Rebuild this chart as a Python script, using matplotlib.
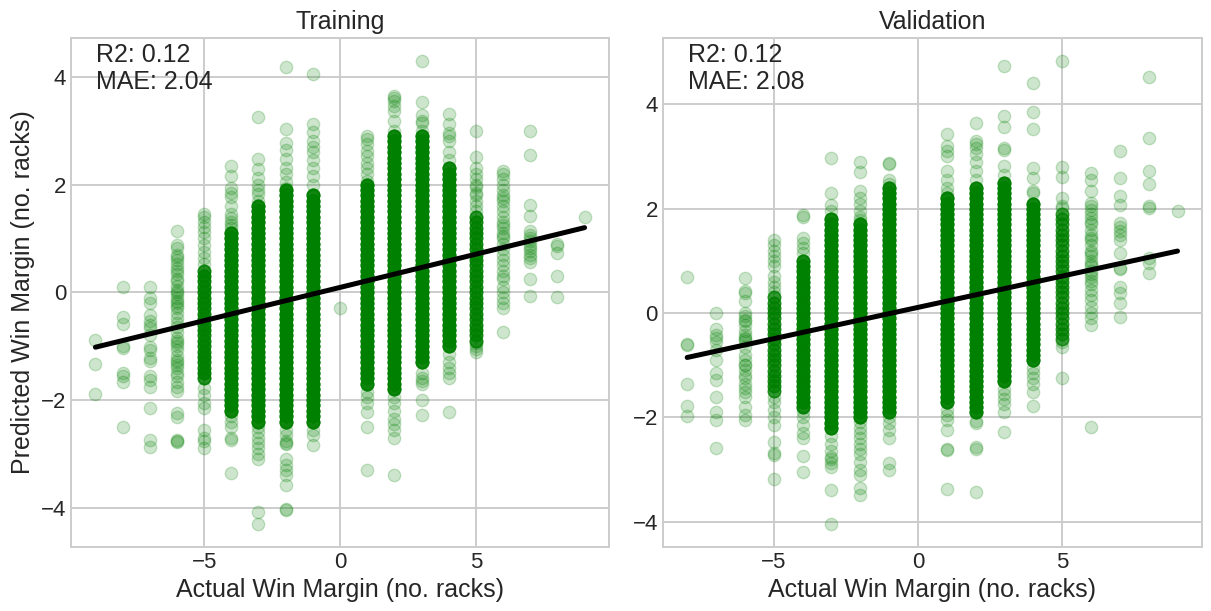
import numpy as np
import matplotlib
matplotlib.use("Agg")
import matplotlib.pyplot as plt

# ---------------------------------------------------------------
# data (predicted win margin per actual margin)
# ---------------------------------------------------------------

train_r2, train_mae = 0.12, 2.04
val_r2, val_mae = 0.12, 2.08

# fitted lines
train_fit_x = [-9, 9]
train_fit_y = [-1.02, 1.20]
val_fit_x = [-8, 9]
val_fit_y = [-0.85, 1.19]

# single (sparse) points, one list per actual margin
train_x = [-9, -8, -7, -6, -5, -4, -3, -2, -1, 0, 1, 2, 3, 4, 5, 6, 7, 8, 9]
train_loose = [
    [-0.89, -1.34, -1.89],
    [0.10, -0.46, -0.59, -1.00, -1.04, -1.50, -1.55, -1.67, -2.51],
    [0.10, -0.11, -0.20, -0.42, -0.54, -0.60, -0.66, -0.79, -1.01, -1.07, -1.22, -1.28,
     -1.56, -1.63, -1.75, -2.14, -2.74, -2.88],
    [1.14, 0.88, 0.83, 0.70, 0.65, 0.60, 0.53, 0.45, 0.40, 0.33, 0.25, 0.20, 0.11, 0.05,
     0.00, -0.04, -0.10, -0.17, -0.20, -0.25, -0.29, -0.38, -0.48, -0.57, -0.65, -0.73,
     -0.85, -0.91, -0.95, -1.00, -1.07, -1.19, -1.25, -1.30, -1.35, -1.41, -1.50, -1.56,
     -1.66, -1.75, -1.84, -2.25, -2.31, -2.74, -2.77, -2.78],
    [1.45, 1.40, 1.31, 1.22, 1.12, 1.00, 0.88, 0.75, 0.63, 0.53,
     -1.78, -1.90, -2.06, -2.15, -2.56, -2.71, -2.77, -2.90],
    [2.35, 2.16, 1.94, 1.85, 1.76, 1.60, 1.45, 1.38, 1.30, 1.25, 1.20,
     -2.30, -2.40, -2.50, -2.71, -2.74, -3.36],
    [3.26, 2.47, 2.28, 2.13, 2.00, 1.90, 1.82, 1.70,
     -2.50, -2.59, -2.71, -2.80, -2.90, -3.00, -3.09, -4.08, -4.30],
    [4.19, 3.03, 2.78, 2.65, 2.47, 2.31, 2.20, 2.05, 1.94,
     -2.55, -2.65, -2.77, -2.80, -2.82, -3.09, -3.20, -3.30, -3.40, -3.58, -4.02, -4.05],
    [4.05, 3.13, 2.97, 2.80, 2.70, 2.60, 2.45, 2.30, 2.15, 2.00,
     -2.55, -2.65, -2.84],
    [-0.29],
    [2.90, 2.85, 2.75, 2.62, 2.53, 2.40, 2.30, 2.20, 2.07,
     -1.85, -1.95, -2.05, -2.22, -2.50, -3.30],
    [3.65, 3.60, 3.55, 3.45, 3.37, 3.18, 3.00,
     -1.95, -2.05, -2.20, -2.35, -2.45, -2.55, -2.71, -3.40],
    [4.30, 3.54, 3.30, 3.18, 3.15, 3.00,
     -1.50, -1.60, -1.65, -1.70, -2.00, -2.28],
    [3.31, 3.12, 2.95, 2.90, 2.80, 2.60, 2.45,
     -1.15, -1.30, -1.40, -1.50, -1.60, -2.22],
    [3.00, 2.51, 2.30, 2.20, 2.10, 2.00, 1.95, 1.85, 1.80, 1.70, 1.60, 1.50,
     -0.95, -1.00, -1.05, -1.10],
    [2.25, 2.20, 2.10, 2.00, 1.90, 1.80, 1.75, 1.70, 1.60, 1.50, 1.40, 1.30, 1.25, 1.20,
     1.10, 1.05, 1.00, 0.90, 0.80, 0.70, 0.60, 0.50, 0.40, 0.30, 0.25, 0.10, 0.00, -0.10,
     -0.20, -0.30, -0.73],
    [3.00, 2.55, 1.62, 1.42, 1.13, 1.07, 1.00, 0.95, 0.88, 0.82, 0.76, 0.70, 0.63, 0.57,
     0.25, -0.06],
    [0.89, 0.85, 0.73, 0.31, -0.09],
    [1.40],
]

# dense bands (values read every 0.1) and how many games sit on each level
train_core_x = [-5, -4, -3, -2, -1, 1, 2, 3, 4, 5]
train_core_reps = [8, 12, 12, 12, 12, 12, 12, 12, 12, 7]
train_core = [
    [0.4, 0.3, 0.2, 0.1, 0.0, -0.1, -0.2, -0.3, -0.4, -0.5, -0.6, -0.7, -0.8, -0.9, -1.0,
     -1.1, -1.2, -1.3, -1.4, -1.5, -1.6],
    [1.1, 1.0, 0.9, 0.8, 0.7, 0.6, 0.5, 0.4, 0.3, 0.2, 0.1, 0.0, -0.1, -0.2, -0.3, -0.4,
     -0.5, -0.6, -0.7, -0.8, -0.9, -1.0, -1.1, -1.2, -1.3, -1.4, -1.5, -1.6, -1.7, -1.8,
     -1.9, -2.0, -2.1, -2.2],
    [1.6, 1.5, 1.4, 1.3, 1.2, 1.1, 1.0, 0.9, 0.8, 0.7, 0.6, 0.5, 0.4, 0.3, 0.2, 0.1, 0.0,
     -0.1, -0.2, -0.3, -0.4, -0.5, -0.6, -0.7, -0.8, -0.9, -1.0, -1.1, -1.2, -1.3, -1.4,
     -1.5, -1.6, -1.7, -1.8, -1.9, -2.0, -2.1, -2.2, -2.3, -2.4],
    [1.9, 1.8, 1.7, 1.6, 1.5, 1.4, 1.3, 1.2, 1.1, 1.0, 0.9, 0.8, 0.7, 0.6, 0.5, 0.4, 0.3,
     0.2, 0.1, 0.0, -0.1, -0.2, -0.3, -0.4, -0.5, -0.6, -0.7, -0.8, -0.9, -1.0, -1.1, -1.2,
     -1.3, -1.4, -1.5, -1.6, -1.7, -1.8, -1.9, -2.0, -2.1, -2.2, -2.3, -2.4],
    [1.8, 1.7, 1.6, 1.5, 1.4, 1.3, 1.2, 1.1, 1.0, 0.9, 0.8, 0.7, 0.6, 0.5, 0.4, 0.3, 0.2,
     0.1, 0.0, -0.1, -0.2, -0.3, -0.4, -0.5, -0.6, -0.7, -0.8, -0.9, -1.0, -1.1, -1.2, -1.3,
     -1.4, -1.5, -1.6, -1.7, -1.8, -1.9, -2.0, -2.1, -2.2, -2.3, -2.4],
    [2.0, 1.9, 1.8, 1.7, 1.6, 1.5, 1.4, 1.3, 1.2, 1.1, 1.0, 0.9, 0.8, 0.7, 0.6, 0.5, 0.4,
     0.3, 0.2, 0.1, 0.0, -0.1, -0.2, -0.3, -0.4, -0.5, -0.6, -0.7, -0.8, -0.9, -1.0, -1.1,
     -1.2, -1.3, -1.4, -1.5, -1.6, -1.7],
    [2.9, 2.8, 2.7, 2.6, 2.5, 2.4, 2.3, 2.2, 2.1, 2.0, 1.9, 1.8, 1.7, 1.6, 1.5, 1.4, 1.3,
     1.2, 1.1, 1.0, 0.9, 0.8, 0.7, 0.6, 0.5, 0.4, 0.3, 0.2, 0.1, 0.0, -0.1, -0.2, -0.3,
     -0.4, -0.5, -0.6, -0.7, -0.8, -0.9, -1.0, -1.1, -1.2, -1.3, -1.4, -1.5, -1.6, -1.7,
     -1.8],
    [2.9, 2.8, 2.7, 2.6, 2.5, 2.4, 2.3, 2.2, 2.1, 2.0, 1.9, 1.8, 1.7, 1.6, 1.5, 1.4, 1.3,
     1.2, 1.1, 1.0, 0.9, 0.8, 0.7, 0.6, 0.5, 0.4, 0.3, 0.2, 0.1, 0.0, -0.1, -0.2, -0.3,
     -0.4, -0.5, -0.6, -0.7, -0.8, -0.9, -1.0, -1.1, -1.2, -1.3],
    [2.3, 2.2, 2.1, 2.0, 1.9, 1.8, 1.7, 1.6, 1.5, 1.4, 1.3, 1.2, 1.1, 1.0, 0.9, 0.8, 0.7,
     0.6, 0.5, 0.4, 0.3, 0.2, 0.1, 0.0, -0.1, -0.2, -0.3, -0.4, -0.5, -0.6, -0.7, -0.8,
     -0.9, -1.0],
    [1.4, 1.3, 1.2, 1.1, 1.0, 0.9, 0.8, 0.7, 0.6, 0.5, 0.4, 0.3, 0.2, 0.1, 0.0, -0.1, -0.2,
     -0.3, -0.4, -0.5, -0.6, -0.7, -0.8, -0.9],
]

val_x = [-8, -7, -6, -5, -4, -3, -2, -1, 1, 2, 3, 4, 5, 6, 7, 8, 9]
val_loose = [
    [0.69, -0.60, -0.62, -1.36, -1.78, -1.97],
    [0.00, -0.30, -0.42, -0.48, -0.55, -0.70, -0.90, -1.15, -1.28, -1.60, -1.90, -2.05, -2.58],
    [0.67, 0.42, 0.38, 0.24, 0.00, -0.06, -0.13, -0.15, -0.22, -0.35, -0.42, -0.48, -0.50,
     -0.54, -0.65, -0.80, -0.90, -0.99, -1.00, -1.09, -1.19, -1.25, -1.35, -1.44, -1.51,
     -1.60, -1.79, -1.96, -2.05],
    [1.41, 1.30, 1.20, 1.10, 1.00, 0.90, 0.71, 0.60, 0.50, 0.40,
     -1.60, -1.70, -1.85, -2.00, -2.15, -2.47, -2.69, -2.72, -3.18],
    [1.88, 1.84, 1.45, 1.35, 1.25, 1.15,
     -1.90, -2.00, -2.15, -2.30, -2.40, -2.74, -3.04],
    [2.97, 2.31, 2.08, 1.95,
     -2.35, -2.50, -2.65, -2.75, -2.80, -2.88, -2.95, -3.40, -4.04],
    [2.90, 2.71, 2.34, 2.20, 2.10, 1.95, 1.85, 1.78,
     -2.08, -2.20, -2.30, -2.40, -2.50, -2.60, -2.70, -2.85, -3.00, -3.10, -3.35, -3.48],
    [2.88, 2.85, 2.55, 2.48,
     -2.00, -2.10, -2.25, -2.40, -2.88, -3.01],
    [3.43, 3.20, 3.10, 3.01, 2.73, 2.55, 2.40, 2.30,
     -1.85, -1.95, -2.05, -2.24, -2.60, -2.62, -3.37],
    [3.65, 3.30, 3.24, 3.17, 3.05, 2.90, 2.73, 2.55,
     -2.06, -2.10, -2.56, -2.60, -3.43],
    [4.74, 3.78, 3.57, 3.17, 3.12, 2.82, 2.65,
     -1.45, -1.55, -1.65, -1.75, -1.89, -2.27],
    [4.41, 3.86, 3.53, 2.79, 2.60, 2.34, 2.30,
     -1.05, -1.15, -1.25, -1.35, -1.51, -1.78],
    [4.84, 2.80, 2.61, 2.21, 2.05, 2.02, -0.55, -0.64, -1.24],
    [2.69, 2.55, 2.34, 2.12, 2.05, 1.98, 1.90, 1.83, 1.75, 1.70, 1.60, 1.50, 1.45, 1.40,
     1.30, 1.20, 1.15, 1.10, 1.00, 0.95, 0.90, 0.80, 0.75, 0.70, 0.62, 0.55, 0.45, 0.35,
     0.25, 0.12, 0.00, -0.10, -0.22, -2.18],
    [3.11, 2.60, 2.24, 2.07, 1.73, 1.65, 1.58, 1.50, 1.41, 1.15, 0.87, 0.84, 0.51, 0.38,
     0.19, -0.08],
    [4.53, 3.35, 2.73, 2.48, 2.05, 2.02, 1.06, 0.96, 0.77],
    [1.96],
]

val_core_x = [-5, -4, -3, -2, -1, 1, 2, 3, 4, 5]
val_core_reps = [6, 10, 12, 12, 12, 12, 12, 12, 12, 5]
val_core = [
    [0.3, 0.2, 0.1, 0.0, -0.1, -0.2, -0.3, -0.4, -0.5, -0.6, -0.7, -0.8, -0.9, -1.0, -1.1,
     -1.2, -1.3, -1.4, -1.5],
    [1.0, 0.9, 0.8, 0.7, 0.6, 0.5, 0.4, 0.3, 0.2, 0.1, 0.0, -0.1, -0.2, -0.3, -0.4, -0.5,
     -0.6, -0.7, -0.8, -0.9, -1.0, -1.1, -1.2, -1.3, -1.4, -1.5, -1.6, -1.7, -1.8],
    [1.8, 1.7, 1.6, 1.5, 1.4, 1.3, 1.2, 1.1, 1.0, 0.9, 0.8, 0.7, 0.6, 0.5, 0.4, 0.3, 0.2,
     0.1, 0.0, -0.1, -0.2, -0.3, -0.4, -0.5, -0.6, -0.7, -0.8, -0.9, -1.0, -1.1, -1.2, -1.3,
     -1.4, -1.5, -1.6, -1.7, -1.8, -1.9, -2.0, -2.1, -2.2],
    [1.7, 1.6, 1.5, 1.4, 1.3, 1.2, 1.1, 1.0, 0.9, 0.8, 0.7, 0.6, 0.5, 0.4, 0.3, 0.2, 0.1,
     0.0, -0.1, -0.2, -0.3, -0.4, -0.5, -0.6, -0.7, -0.8, -0.9, -1.0, -1.1, -1.2, -1.3,
     -1.4, -1.5, -1.6, -1.7, -1.8, -1.9, -2.0],
    [2.4, 2.3, 2.2, 2.1, 2.0, 1.9, 1.8, 1.7, 1.6, 1.5, 1.4, 1.3, 1.2, 1.1, 1.0, 0.9, 0.8,
     0.7, 0.6, 0.5, 0.4, 0.3, 0.2, 0.1, 0.0, -0.1, -0.2, -0.3, -0.4, -0.5, -0.6, -0.7,
     -0.8, -0.9, -1.0, -1.1, -1.2, -1.3, -1.4, -1.5, -1.6, -1.7, -1.8, -1.9],
    [2.2, 2.1, 2.0, 1.9, 1.8, 1.7, 1.6, 1.5, 1.4, 1.3, 1.2, 1.1, 1.0, 0.9, 0.8, 0.7, 0.6,
     0.5, 0.4, 0.3, 0.2, 0.1, 0.0, -0.1, -0.2, -0.3, -0.4, -0.5, -0.6, -0.7, -0.8, -0.9,
     -1.0, -1.1, -1.2, -1.3, -1.4, -1.5, -1.6, -1.7],
    [2.4, 2.3, 2.2, 2.1, 2.0, 1.9, 1.8, 1.7, 1.6, 1.5, 1.4, 1.3, 1.2, 1.1, 1.0, 0.9, 0.8,
     0.7, 0.6, 0.5, 0.4, 0.3, 0.2, 0.1, 0.0, -0.1, -0.2, -0.3, -0.4, -0.5, -0.6, -0.7,
     -0.8, -0.9, -1.0, -1.1, -1.2, -1.3, -1.4, -1.5, -1.6, -1.7, -1.8, -1.9],
    [2.5, 2.4, 2.3, 2.2, 2.1, 2.0, 1.9, 1.8, 1.7, 1.6, 1.5, 1.4, 1.3, 1.2, 1.1, 1.0, 0.9,
     0.8, 0.7, 0.6, 0.5, 0.4, 0.3, 0.2, 0.1, 0.0, -0.1, -0.2, -0.3, -0.4, -0.5, -0.6,
     -0.7, -0.8, -0.9, -1.0, -1.1, -1.2, -1.3],
    [2.1, 2.0, 1.9, 1.8, 1.7, 1.6, 1.5, 1.4, 1.3, 1.2, 1.1, 1.0, 0.9, 0.8, 0.7, 0.6, 0.5,
     0.4, 0.3, 0.2, 0.1, 0.0, -0.1, -0.2, -0.3, -0.4, -0.5, -0.6, -0.7, -0.8, -0.9],
    [1.9, 1.8, 1.7, 1.6, 1.5, 1.4, 1.3, 1.2, 1.1, 1.0, 0.9, 0.8, 0.7, 0.6, 0.5, 0.4, 0.3,
     0.2, 0.1, 0.0, -0.1, -0.2, -0.3, -0.4, -0.5],
]


def collect(xs, loose, core_x, core, reps):
    px, py = [], []
    for x, ys in zip(xs, loose):
        px += [x] * len(ys)
        py += list(ys)
    for x, ys, n in zip(core_x, core, reps):
        ys = np.repeat(ys, n)
        px += [x] * len(ys)
        py += list(ys)
    return np.array(px), np.array(py)


plt.style.use('seaborn-v0_8-whitegrid')
plt.rcParams['font.family'] = ['Liberation Sans', 'DejaVu Sans']
plt.rcParams['grid.linewidth'] = 1.4
plt.rcParams['axes.linewidth'] = 1.4

fig = plt.figure(figsize=(12.11, 6.11), dpi=100)
ax1 = fig.add_axes([0.0586, 0.1047, 0.4443, 0.8339])
ax2 = fig.add_axes([0.5472, 0.1047, 0.4454, 0.8339])

panels = [
    (ax1, "Training", collect(train_x, train_loose, train_core_x, train_core, train_core_reps),
     train_fit_x, train_fit_y, train_r2, train_mae),
    (ax2, "Validation", collect(val_x, val_loose, val_core_x, val_core, val_core_reps),
     val_fit_x, val_fit_y, val_r2, val_mae),
]

for ax, title, (px, py), fx, fy, r2, mae in panels:
    ax.scatter(px, py, s=80, color='green', alpha=0.2, linewidths=1)
    ax.plot(fx, fy, color='black', linewidth=3.6)
    ax.text(0.047, 0.99, f"R2: {r2:.2f}\nMAE: {mae:.2f}", transform=ax.transAxes,
            ha='left', va='top', fontsize=18, color='.15')
    ax.set_title(title, fontsize=18)
    ax.set_xlabel("Actual Win Margin (no. racks)", fontsize=18)
    ax.tick_params(labelsize=16)
    ax.set_xticks([-5, 0, 5])
    ax.set_yticks([-4, -2, 0, 2, 4])

ax1.set_ylabel("Predicted Win Margin (no. racks)", fontsize=18)

fig.savefig("out.png", dpi=100)
